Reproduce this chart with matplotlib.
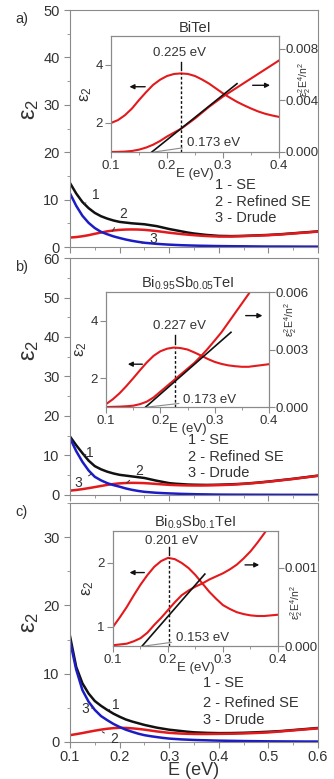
import matplotlib.pyplot as plt
from matplotlib.ticker import MultipleLocator

plt.rcParams['font.family'] = ['Liberation Sans', 'DejaVu Sans']
plt.rcParams['mathtext.fontset'] = 'custom'
plt.rcParams['mathtext.rm'] = 'Liberation Sans'
plt.rcParams['mathtext.it'] = 'Liberation Sans:italic'
plt.rcParams['mathtext.default'] = 'regular'

# energia (eV) de los paneles principales
E = [0.1, 0.1125, 0.125, 0.1375, 0.15, 0.1625, 0.175, 0.1875, 0.2, 0.2125,
     0.225, 0.2375, 0.25, 0.2625, 0.275, 0.2875, 0.3, 0.3125, 0.325, 0.3375,
     0.35, 0.3625, 0.375, 0.3875, 0.4, 0.425, 0.45, 0.475, 0.5, 0.525, 0.55,
     0.575, 0.6]
# energia (eV) de las curvas eps2^2 E^4 / n^2 de los recuadros
E_ins = E[:25]

# a) BiTeI
a_se = [13.5, 11.3, 9.5, 8.2, 7.2, 6.5, 6.0, 5.6, 5.3, 5.15, 5.0, 4.9, 4.8,
        4.6, 4.4, 4.1, 3.8, 3.55, 3.3, 3.05, 2.85, 2.7, 2.55, 2.45, 2.35, 2.3,
        2.35, 2.45, 2.55, 2.7, 2.9, 3.1, 3.3]
a_ref = [2.0, 2.1, 2.27, 2.5, 2.79, 3.06, 3.31, 3.49, 3.62, 3.69, 3.71, 3.69,
         3.62, 3.5, 3.36, 3.19, 3.02, 2.87, 2.73, 2.61, 2.5, 2.4, 2.32, 2.26,
         2.21, 2.22, 2.3, 2.4, 2.5, 2.65, 2.85, 3.05, 3.25]
a_dr = [11.3, 8.7, 6.6, 5.1, 4.0, 3.2, 2.7, 2.25, 1.9, 1.58, 1.31, 1.09, 0.9,
        0.78, 0.67, 0.58, 0.5, 0.44, 0.38, 0.34, 0.3, 0.27, 0.25, 0.22, 0.2,
        0.17, 0.15, 0.12, 0.1, 0.1, 0.09, 0.08, 0.08]
a_q = [0.0, 0.00001, 0.00003, 0.00008, 0.00018, 0.00034, 0.00056, 0.00085,
       0.0012, 0.0015, 0.0018, 0.0022, 0.0026, 0.00305, 0.0035, 0.0039,
       0.0043, 0.00465, 0.005, 0.00535, 0.0057, 0.00605, 0.0064, 0.00675,
       0.0071]
a_tan_x = [0.173, 0.325]
a_tan_y = [0.0, 0.0053]
a_peak = (0.225, 3.71)

# b) Bi0.95Sb0.05TeI
b_se = [14.8, 12.6, 10.6, 8.7, 7.3, 6.5, 5.9, 5.45, 5.1, 4.9, 4.7, 4.5, 4.3,
        3.95, 3.6, 3.3, 3.0, 2.85, 2.75, 2.65, 2.6, 2.57, 2.55, 2.57, 2.6,
        2.7, 2.85, 3.1, 3.4, 3.75, 4.1, 4.5, 4.9]
b_ref = [1.1, 1.27, 1.48, 1.73, 2.0, 2.28, 2.55, 2.78, 2.94, 3.03, 3.07, 3.05,
         3.0, 2.9, 2.79, 2.67, 2.57, 2.5, 2.45, 2.42, 2.4, 2.4, 2.43, 2.46,
         2.49, 2.6, 2.8, 3.05, 3.35, 3.7, 4.05, 4.45, 4.85]
b_dr = [14.4, 11.1, 8.4, 6.2, 4.6, 3.7, 3.0, 2.5, 2.1, 1.65, 1.3, 1.02, 0.8,
        0.67, 0.55, 0.47, 0.4, 0.34, 0.28, 0.24, 0.2, 0.17, 0.15, 0.12, 0.1,
        0.08, 0.07, 0.06, 0.05, 0.04, 0.04, 0.03, 0.03]
b_q = [0.0, 0.00001, 0.00002, 0.00004, 0.00007, 0.00015, 0.00028, 0.0005,
       0.0008, 0.0011, 0.0014, 0.0017, 0.002, 0.0023, 0.00266, 0.00305,
       0.00347, 0.0039, 0.0044, 0.0049, 0.0054, 0.0059, 0.0065, 0.0071,
       0.0077]
b_tan_x = [0.173, 0.33]
b_tan_y = [0.0, 0.0039]
b_peak = (0.227, 3.07)

# c) Bi0.9Sb0.1TeI
c_se = [15.5, 11.0, 8.6, 7.1, 6.0, 5.3, 4.7, 4.15, 3.7, 3.3, 3.0, 2.75, 2.5,
        2.3, 2.1, 1.95, 1.8, 1.7, 1.6, 1.5, 1.42, 1.38, 1.34, 1.32, 1.3, 1.31,
        1.35, 1.42, 1.5, 1.6, 1.75, 1.9, 2.05]
c_ref = [1.0, 1.15, 1.31, 1.49, 1.66, 1.81, 1.94, 2.03, 2.08, 2.06, 2.0, 1.92,
         1.81, 1.68, 1.55, 1.44, 1.34, 1.28, 1.23, 1.2, 1.18, 1.17, 1.17, 1.18,
         1.19, 1.21, 1.25, 1.32, 1.4, 1.55, 1.7, 1.85, 2.0]
c_dr = [14.8, 10.6, 7.6, 5.9, 4.7, 3.8, 3.2, 2.65, 2.2, 1.8, 1.5, 1.22, 1.0,
        0.85, 0.72, 0.6, 0.5, 0.44, 0.38, 0.34, 0.3, 0.27, 0.25, 0.22, 0.2,
        0.17, 0.14, 0.12, 0.1, 0.09, 0.08, 0.07, 0.07]
c_q = [0.00001, 0.00002, 0.00003, 0.00006, 0.0001, 0.00017, 0.00027, 0.00036,
       0.00046, 0.00056, 0.00065, 0.00071, 0.00076, 0.0008, 0.00085, 0.00089,
       0.00093, 0.00098, 0.00104, 0.00112, 0.00121, 0.00132, 0.00144,
       0.00157, 0.0017]
c_tan_x = [0.153, 0.267]
c_tan_y = [0.0, 0.00092]
c_peak = (0.201, 2.08)

ROJO = '#e3191c'
AZUL = '#1c1cc4'
NEGRO = '#111111'
GRIS = '#8a8a8a'
TXT = '#333333'

paneles = [
    dict(letra='a)', se=a_se, ref=a_ref, dr=a_dr, q=a_q, tx=a_tan_x, ty=a_tan_y,
         peak=a_peak, titulo='BiTeI', ymax=50, yl_pos=0.58,
         rect=[0.2096, 0.6829, 0.7425, 0.3042],
         inset=[0.3323, 0.8049, 0.503, 0.1489],
         ilim=(1, 5), iticks=[2, 4], rlim=(0, 0.009), rticks=[0, 0.004, 0.008],
         rl_pos=(1.1, 0.62),
         pk_txt=(0.223, 4.2), pk_tick=(3.83, 4.12),
         g_lbl='0.173 eV', g_txt=(0.235, 0.00066),
         arr_l=(0.166, 0.128, 3.25), arr_r=(0.348, 0.389, 3.3),
         leg=(0.585, [0.262, 0.19, 0.122]),
         marcas=[('1', (0.128, 9.0), (0.152, 10.9)),
                 ('2', (0.185, 3.3), (0.207, 6.9)),
                 ('3', (0.245, 0.8), (0.268, 1.6))]),
    dict(letra='b)', se=b_se, ref=b_ref, dr=b_dr, q=b_q, tx=b_tan_x, ty=b_tan_y,
         peak=b_peak, titulo='Bi$_{0.95}$Sb$_{0.05}$TeI', ymax=60, yl_pos=0.61,
         rect=[0.2096, 0.3646, 0.7425, 0.3042],
         inset=[0.3174, 0.4775, 0.488, 0.1476],
         ilim=(1, 5), iticks=[2, 4], rlim=(0, 0.006), rticks=[0, 0.003, 0.006],
         rl_pos=(1.08, 0.76),
         pk_txt=(0.235, 3.62), pk_tick=(3.2, 3.52),
         g_lbl='0.173 eV', g_txt=(0.242, 0.00037),
         arr_l=(0.172, 0.135, 2.49), arr_r=(0.352, 0.393, 4.18),
         leg=(0.476, [0.232, 0.16, 0.093]),
         marcas=[('1', (0.127, 10.0), (0.14, 10.6)),
                 ('2', (0.214, 3.0), (0.24, 6.0)),
                 ('3', (0.144, 5.4), (0.117, 3.1))]),
    dict(letra='c)', se=c_se, ref=c_ref, dr=c_dr, q=c_q, tx=c_tan_x, ty=c_tan_y,
         peak=c_peak, titulo='Bi$_{0.9}$Sb$_{0.1}$TeI', ymax=35, yl_pos=0.5,
         rect=[0.2096, 0.0475, 0.7425, 0.3068],
         inset=[0.3383, 0.1707, 0.494, 0.1476],
         ilim=(0.7, 2.5), iticks=[1, 2], rlim=(0, 0.00147), rticks=[0, 0.001],
         rl_pos=(1.06, 0.38),
         pk_txt=(0.206, 2.25), pk_tick=(2.12, 2.25),
         g_lbl='0.153 eV', g_txt=(0.214, 0.0001),
         arr_l=(0.162, 0.125, 1.85), arr_r=(0.335, 0.371, 1.97),
         leg=(0.536, [0.247, 0.163, 0.092]),
         marcas=[('1', (0.178, 4.7), (0.193, 5.4)),
                 ('3', (0.147, 5.0), (0.13, 4.8)),
                 ('2', (0.165, 1.5), (0.19, 0.4))]),
]


def estilo(ax):
    for s in ax.spines.values():
        s.set_color(GRIS)
    ax.tick_params(which='both', direction='out', color=GRIS, labelcolor=TXT)
    ax.tick_params(which='major', length=4)
    ax.tick_params(which='minor', length=2)


fig = plt.figure(figsize=(3.34, 7.79), dpi=100)

for k, p in enumerate(paneles):
    ax = fig.add_axes(p['rect'])
    ax.plot(E, p['se'], color=NEGRO, lw=1.8)
    ax.plot(E, p['ref'], color=ROJO, lw=1.8)
    ax.plot(E, p['dr'], color=AZUL, lw=1.8)
    ax.set_xlim(0.1, 0.6)
    ax.set_ylim(0, p['ymax'])
    ax.xaxis.set_major_locator(MultipleLocator(0.1))
    ax.xaxis.set_minor_locator(MultipleLocator(0.05))
    ax.yaxis.set_major_locator(MultipleLocator(10))
    ax.yaxis.set_minor_locator(MultipleLocator(5))
    estilo(ax)
    ax.tick_params(labelsize=10.5)
    ax.set_ylabel('ε$_2$', fontsize=17, color=TXT)
    ax.yaxis.set_label_coords(-0.115, p['yl_pos'])
    if k < 2:
        ax.tick_params(labelbottom=False)
    else:
        ax.tick_params(axis='x', pad=2)
        ax.set_xlabel('E (eV)', fontsize=13, color=TXT, labelpad=-2)
    fig.text(0.045, p['rect'][1] + p['rect'][3] - 0.002, p['letra'],
             fontsize=10.5, color=TXT, va='top')

    lx, lys = p['leg']
    for txt, yy in zip(['1 - SE', '2 - Refined SE', '3 - Drude'], lys):
        ax.text(lx, yy, txt, transform=ax.transAxes, fontsize=10.5, color=TXT,
                va='center')
    for num, xy, xyt in p['marcas']:
        ax.annotate(num, xy=xy, xytext=xyt, fontsize=10, color=TXT,
                    ha='center', va='center',
                    arrowprops=dict(arrowstyle='-', color=TXT, lw=0.7,
                                    shrinkA=3, shrinkB=0))

    # recuadro
    ai = fig.add_axes(p['inset'])
    ar = ai.twinx()
    ai.plot(E, p['ref'], color=ROJO, lw=1.5)
    ar.plot(E_ins, p['q'], color=ROJO, lw=1.5)
    ar.plot(p['tx'], p['ty'], color=NEGRO, lw=1.2)
    ai.set_xlim(0.1, 0.4)
    ai.set_ylim(*p['ilim'])
    ar.set_ylim(*p['rlim'])
    ai.set_xticks([0.1, 0.2, 0.3, 0.4])
    ai.xaxis.set_minor_locator(MultipleLocator(0.05))
    ai.set_yticks(p['iticks'])
    ar.set_yticks(p['rticks'])
    ar.set_yticklabels(['%.3f' % v for v in p['rticks']])
    estilo(ai)
    estilo(ar)
    ai.tick_params(labelsize=9.5, pad=2)
    ar.tick_params(labelsize=9.5, pad=1)
    ai.set_xlabel('E (eV)', fontsize=9.5, color=TXT, labelpad=-3)
    ai.set_ylabel('ε$_2$', fontsize=12, color=TXT, labelpad=1)
    ar.set_ylabel('ε$_2^2$E$^4$/n$^2$', fontsize=7.5, color=TXT)
    ar.yaxis.set_label_coords(*p['rl_pos'])
    ai.set_title(p['titulo'], fontsize=10.5, color=TXT, pad=3)

    px, py = p['peak']
    ai.plot([px, px], [p['ilim'][0], py], color=NEGRO, lw=1.0,
            linestyle=(0, (2, 1.5)))
    ai.plot([px, px], p['pk_tick'], color=NEGRO, lw=1.0)
    ai.text(p['pk_txt'][0], p['pk_txt'][1], '%.3f eV' % px, fontsize=9.5,
            color=TXT, ha='center', va='bottom')
    ar.annotate(p['g_lbl'], xy=(p['tx'][0] + 0.004, 0.0), xytext=p['g_txt'],
                fontsize=9.5, color=TXT, va='center',
                arrowprops=dict(arrowstyle='-', color=GRIS, lw=0.8,
                                shrinkA=1, shrinkB=0))
    x0, x1, ya = p['arr_l']
    ai.annotate('', xy=(x1, ya), xytext=(x0, ya),
                arrowprops=dict(arrowstyle='-|>', color=NEGRO, lw=1.0,
                                mutation_scale=7))
    x0, x1, ya = p['arr_r']
    ai.annotate('', xy=(x1, ya), xytext=(x0, ya),
                arrowprops=dict(arrowstyle='-|>', color=NEGRO, lw=1.0,
                                mutation_scale=7))

fig.savefig('out.png', dpi=100)
